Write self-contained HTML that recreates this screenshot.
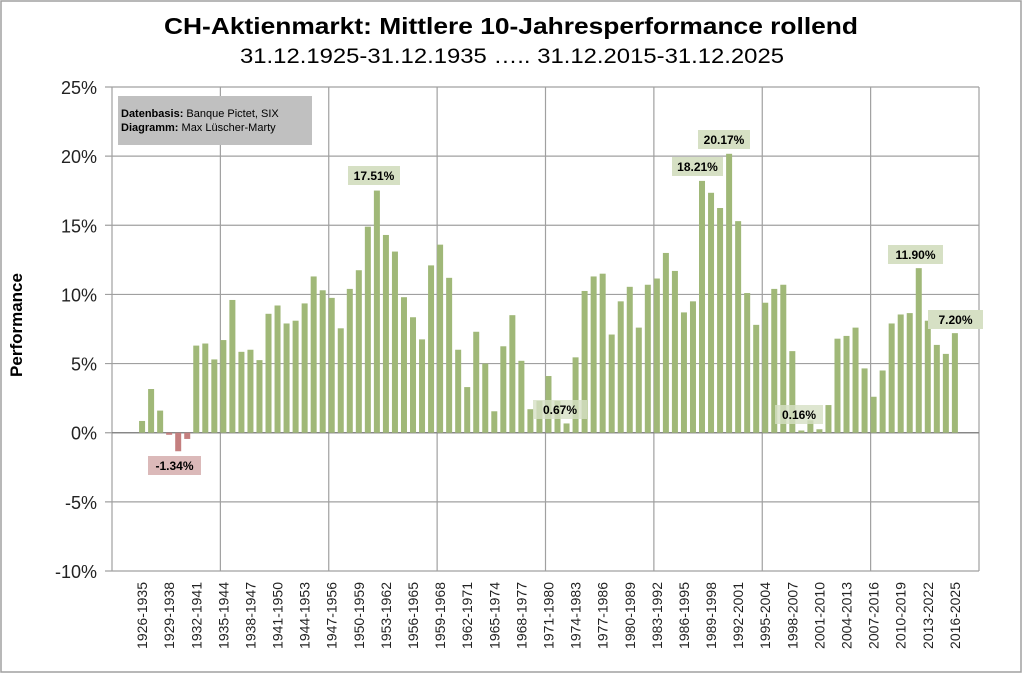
<!DOCTYPE html>
<html><head><meta charset="utf-8"><style>
html,body{margin:0;padding:0;background:#fff}
svg{display:block;font-family:"Liberation Sans",sans-serif}
</style></head><body>
<svg id="c" width="1024" height="674" xmlns="http://www.w3.org/2000/svg">
<rect x="1" y="1" width="1020" height="671" fill="#fff" stroke="#a0a0a0" stroke-width="1.5"/>
<text x="511" y="34" text-anchor="middle" font-size="23" font-weight="bold" textLength="694" lengthAdjust="spacingAndGlyphs">CH-Aktienmarkt: Mittlere 10-Jahresperformance rollend</text>
<text x="512" y="63" text-anchor="middle" font-size="21" textLength="544" lengthAdjust="spacingAndGlyphs">31.12.1925-31.12.1935  ….. 31.12.2015-31.12.2025</text>
<g id="grid" stroke="#a0a0a0" stroke-width="1.2"></g>
<g id="bars"></g>
<g id="labels" font-size="13" fill="#222"></g>
<text transform="translate(22,325) rotate(-90)" text-anchor="middle" font-size="17" font-weight="bold">Performance</text>
<rect x="118" y="96" width="194" height="49" fill="#c0c0c0"/>
<text x="121" y="117" font-size="11"><tspan font-weight="bold">Datenbasis:</tspan> Banque Pictet, SIX</text>
<text x="121" y="131" font-size="11"><tspan font-weight="bold">Diagramm:</tspan> Max Lüscher-Marty</text>
<g id="ann" font-size="12" font-weight="bold"></g>
</svg>
<script>
const v=[0.85,3.16,1.6,-0.15,-1.34,-0.45,6.3,6.45,5.3,6.7,9.6,5.85,6.0,5.25,8.6,9.2,7.9,8.1,9.35,11.3,10.3,9.75,7.55,10.4,11.75,14.9,17.51,
14.3,13.1,9.8,8.35,6.75,12.1,13.6,11.2,6.0,3.3,7.3,5.0,1.55,6.25,8.5,5.2,1.7,2.3,4.1,2.3,0.67,5.45,10.25,11.3,11.5,7.1,9.5,10.55,7.6,10.7,11.15,13.0,
11.7,8.7,9.5,18.21,17.35,16.25,20.17,15.3,10.1,7.8,9.4,10.4,10.7,5.9,0.16,0.9,0.25,2.0,6.8,7.0,7.6,4.65,2.6,4.5,7.9,8.55,8.65,11.9,8.1,6.35,5.7,7.2];
const ns="http://www.w3.org/2000/svg";
function el(p,t,a,txt){const e=document.createElementNS(ns,t);for(const k in a)e.setAttribute(k,a[k]);if(txt!=null)e.textContent=txt;document.getElementById(p).appendChild(e);return e;}
const L=112,R=979,T=87,B=571,k=(B-T)/35,Y=p=>T+(25-p)*k;
for(let p=25;p>=-10;p-=5){const y=Y(p);el('grid','line',{x1:105,x2:R,y1:y,y2:y});el('labels','text',{x:97,y:y+7,'text-anchor':'end','font-size':18},p+'%');}
const sw=(R-L)/96;
for(let i=0;i<=8;i++){const x=L+i*12*sw;el('grid','line',{x1:x,x2:x,y1:T,y2:B});}
const y0=Y(0);
v.forEach((p,i)=>{const cx=L+(i+3.33)*sw;const y=Y(p);el('bars','rect',{x:cx-3,y:Math.min(y,y0),width:6,height:Math.max(Math.abs(y-y0),0.8),fill:p<0?'#c47f7f':'#a0b878'});
 if(i%3==0){const yr=1926+i;el('labels','text',{transform:`translate(${cx+5},582) rotate(-90)`,'text-anchor':'end','font-size':14},yr+'-'+(yr+9));}});
el('grid','line',{x1:L,x2:R,y1:y0,y2:y0,stroke:'#808080'});
const an=[[148,456,53,'-1.34%','#dbb9b9'],[348,166,52,'17.51%','#d6e0c4'],[672,157,51,'18.21%','#d6e0c4'],[698,130,52,'20.17%','#d6e0c4'],[888,245,55,'11.90%','#d6e0c4'],[928,310,55,'7.20%','#d6e0c4'],[533,400,54,'0.67%','#d6e0c4cc'],[775,405,48,'0.16%','#d6e0c4cc']];
an.forEach(a=>{el('ann','rect',{x:a[0],y:a[1],width:a[2],height:19,fill:a[4]});el('ann','text',{x:a[0]+a[2]/2,y:a[1]+14,'text-anchor':'middle'},a[3]);});
</script>
</body></html>
